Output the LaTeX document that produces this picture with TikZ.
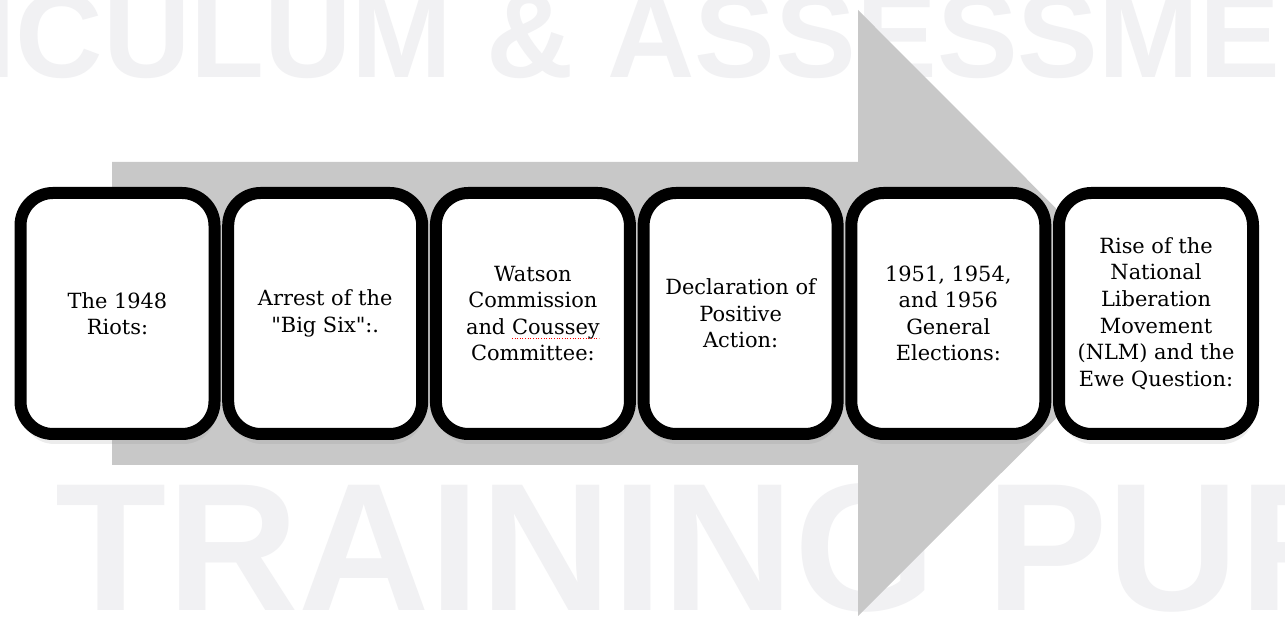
\documentclass[tikz,border=0pt]{standalone}
\usepackage{fontspec}
\setmainfont{DejaVu Serif}[Ligatures=TeXOff]
\newfontfamily\markfont{Liberation Sans}
\usepackage{tikz}
\usetikzlibrary{shadows}
\definecolor{arrowgrey}{RGB}{200,200,200}
\definecolor{markgrey}{RGB}{241,241,243}

\begin{document}
\begin{tikzpicture}[
    eventbox/.style={draw=black, line width=0.24cm, fill=white, rounded corners=0.65cm,
      minimum width=3.88cm, minimum height=4.82cm, inner sep=0pt, align=center,
      font=\fontsize{11.9}{15.1}\selectfont,
      drop shadow={shadow xshift=0.03cm, shadow yshift=-0.2cm, opacity=0.15}},
    watermark/.style={text=markgrey, inner sep=0pt, anchor=base west}
  ]
    \useasboundingbox (0,0) rectangle (25.7,12.42);
    \clip (0,0) rectangle (25.7,12.42);
    \fill[white] (0,0) rectangle (25.7,12.42);
    % faint watermark behind everything
    \node[watermark, font=\markfont\bfseries\fontsize{68.9}{70}\selectfont] (topmark) at (-7.36,10.86) {CURRICULUM \& ASSESSMENT};
    \node[watermark, font=\markfont\bfseries\fontsize{103.6}{105}\selectfont] (bottommark) at (1.11,0.2) {TRAINING PURPOSES};
    % big grey arrow
    \fill[arrowgrey] (2.24,3.12) -- (2.24,9.18) -- (17.16,9.18) -- (17.16,12.22) -- (23.22,6.15) -- (17.16,0.1) -- (17.16,3.12) -- cycle;
    % the six events
    \node[eventbox] (riots) at (2.35,6.15) {The 1948\\Riots:};
    \node[eventbox] (bigsix) at (6.504,6.15) {Arrest of the\\"Big Six":.};
    \node[eventbox] (watson) at (10.658,6.15) {Watson\\Commission\\and Coussey\\Committee:};
    \node[eventbox] (positive) at (14.812,6.15) {Declaration of\\Positive\\Action:};
    \node[eventbox] (elections) at (18.966,6.15) {1951, 1954,\\and 1956\\General\\Elections:};
    \node[eventbox] (nlm) at (23.12,6.15) {Rise of the\\National\\Liberation\\Movement\\(NLM) and the\\Ewe Question:};
    % spelling mark under Coussey
    \draw[red, densely dotted, line width=0.5pt] ([xshift=-0.42cm,yshift=-0.49cm]watson.center) -- ([xshift=1.32cm,yshift=-0.49cm]watson.center);
  \end{tikzpicture}
\end{document}
